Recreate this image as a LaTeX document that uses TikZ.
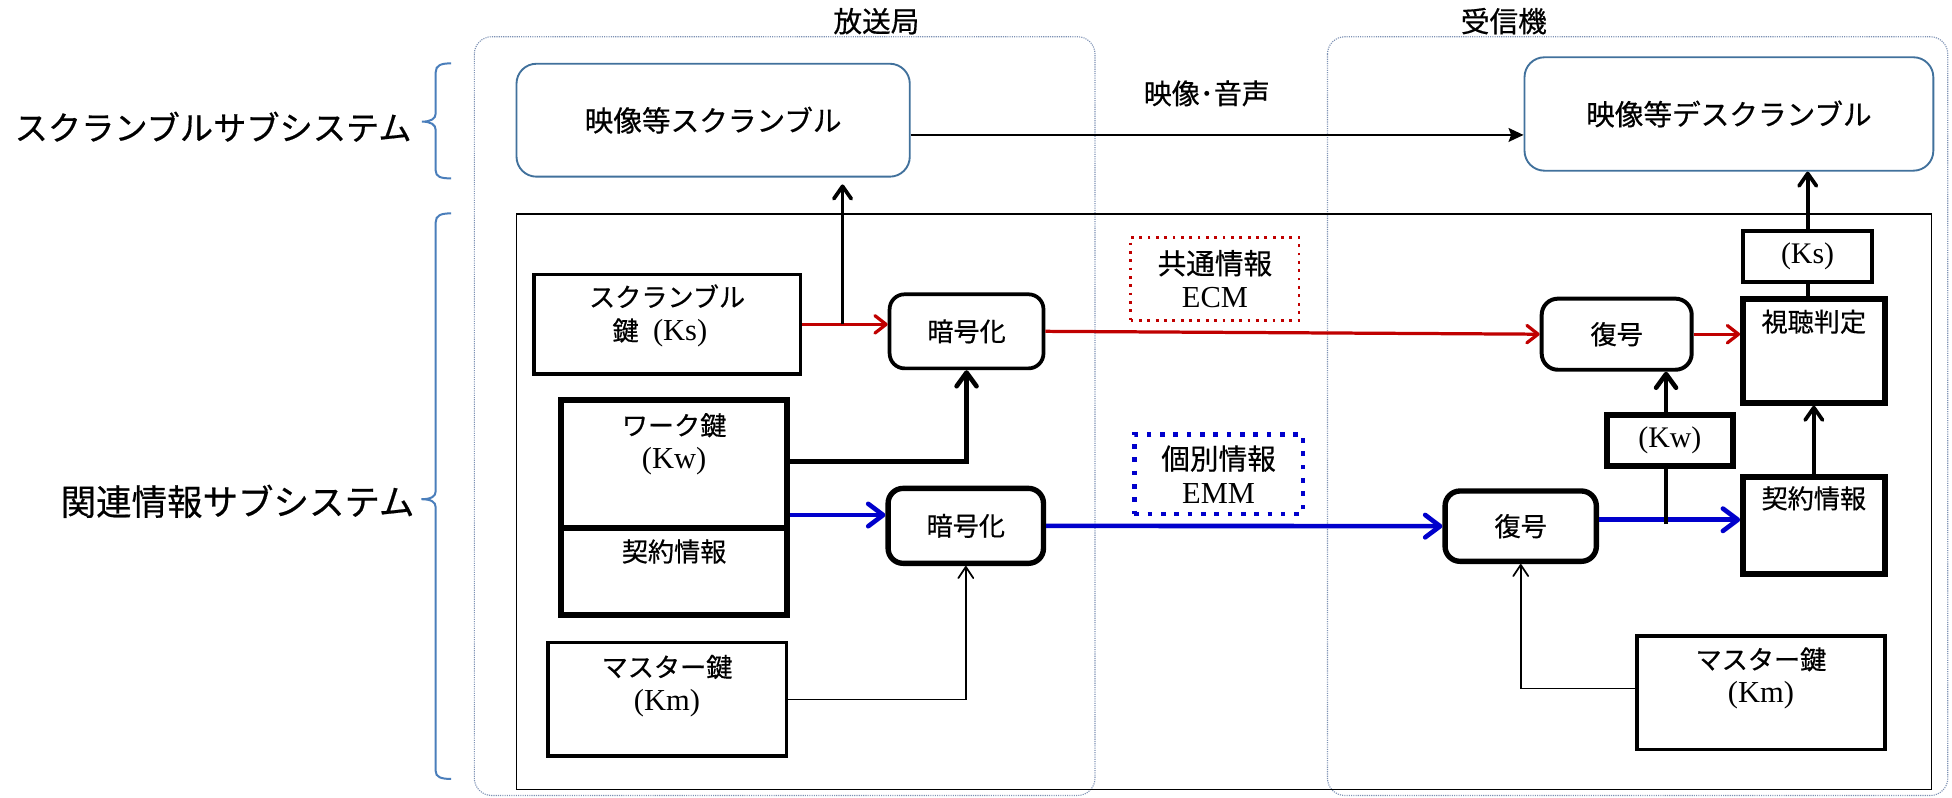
\documentclass[tikz,border=0pt]{standalone}
\usepackage{fontspec}
\newfontfamily\jp{Noto Sans CJK JP}[FakeBold=0.5]
\newfontfamily\lsf{Liberation Serif}
\usetikzlibrary{arrows.meta}
\definecolor{boxblue}{RGB}{65,113,156}
\definecolor{braceblue}{RGB}{74,126,187}
\definecolor{dotgray}{RGB}{125,145,180}
\definecolor{kred}{RGB}{192,0,0}
\definecolor{kblue}{RGB}{0,0,204}
\newcommand{\latn}[1]{{\lsf\fontsize{24.5}{27}\selectfont #1}}
\newcommand{\latsm}[1]{{\lsf\fontsize{24}{27}\selectfont #1}}
\begin{document}
\begin{tikzpicture}[x=1pt,y=-1pt,
  jt/.style={font=\jp\fontsize{#1}{27}\selectfont, align=center, inner sep=0pt},
  jt/.default=21,
  kbox/.style={draw=black, rectangle, inner sep=0pt},
  rkbox/.style={kbox, rounded corners=12pt},
  sbox/.style={draw=boxblue, line width=1.5pt, rounded corners=16pt, inner sep=0pt, jt=23},
  cont/.style={draw=dotgray, line width=0.9pt, dash pattern=on 0.9pt off 0.9pt, rounded corners=14pt},
  brc/.style={draw=braceblue, line width=1.6pt},
  redar/.style={draw=kred, line width=2.6pt, -{Straight Barb[length=9pt,width=14pt,round]}},
  bluar/.style={draw=kblue, line width=3.7pt, -{Straight Barb[length=12pt,width=18pt,round]}},
  thkar/.style={line width=3.7pt, -{Straight Barb[length=11pt,width=16pt,round]}},
  thkln/.style={line width=3.7pt},
  midar/.style={line width=3pt, -{Straight Barb[length=10pt,width=14pt,round]}},
  midln/.style={line width=3pt},
  thinar/.style={line width=1.4pt, -{Straight Barb[length=9pt,width=12pt,round]}},
  vidar/.style={line width=2pt, -{Stealth[length=12pt,width=11pt,inset=2pt]}},
]
\useasboundingbox (0,0) rectangle (1568,641);
\fill[white] (0,0) rectangle (1568,641);

% containers
\draw[cont] (381,29.5) rectangle (879.6,639);
\draw[cont] (1066.3,29.5) rectangle (1564.6,639);
\node[jt=23] (bcl) at (704,17) {放送局};
\node[jt=23] (rcl) at (1208,17) {受信機};

% left labels
\node[jt=26.7] (sslbl) at (171.2,101.8) {スクランブルサブシステム};
\node[jt=28.5] (kslbl) at (190.8,402.7) {関連情報サブシステム};

% braces
\draw[brc] (362.3,50.9) .. controls (354,50.9) and (350,52.5) .. (350,58) -- (350,91)
  .. controls (350,95.5) and (346,97.7) .. (339,97.7)
  .. controls (346,97.7) and (350,100) .. (350,104.5) -- (350,137)
  .. controls (350,142) and (354,143.3) .. (362.3,143.3);
\draw[brc] (362.3,171.4) .. controls (354,171.4) and (350,173) .. (350,178.5) -- (350,394.5)
  .. controls (350,399) and (346,401) .. (338.5,401)
  .. controls (346,401) and (350,403) .. (350,407.5) -- (350,619.5)
  .. controls (350,624) and (354,625.7) .. (362.3,625.7);

% related-info frame
\draw[line width=1.3pt] (415,171.7) rectangle (1551.5,634.3);

% scramble boxes
\node[sbox, minimum width=315.9pt, minimum height=90.7pt] (scr) at (572.85,96.55) {映像等スクランブル};
\node[sbox, minimum width=328.4pt, minimum height=91.1pt] (dscr) at (1388.8,91.55) {映像等デスクランブル};
\coordinate (vy) at (0,108.4);
\draw[vidar] (scr.east |- vy) -- (dscr.west |- vy);
\node[jt=22.5] (vlbl) at (969.4,75) {映像･音声};

% broadcaster side
\node[kbox, line width=3pt, minimum width=214.3pt, minimum height=80.3pt] (ksb) at (535.85,260.55) {};
\node[jt] (ksbt) at ([yshift=7pt]ksb.center) {スクランブル\\鍵\hspace*{0.55em}\latn{(Ks)}\hspace*{0.55em}};
\node[kbox, line width=5pt, minimum width=181.4pt, minimum height=103.1pt] (kwb) at (541.5,372.85) {};
\node[jt] (kwbt) at ([yshift=16pt]kwb.center) {ワーク鍵\\\latn{(Kw)}};
\node[kbox, line width=5pt, minimum width=181.4pt, minimum height=69.6pt] (cil) at (541.5,459.2) {};
\node[jt] (cilt) at ([yshift=16.2pt]cil.center) {契約情報};
\node[kbox, line width=2.8pt, minimum width=191.6pt, minimum height=91pt] (kml) at (535.8,561.8) {};
\node[jt] (kmlt) at ([yshift=10.8pt]kml.center) {マスター鍵\\\latn{(Km)}};

\node[rkbox, line width=3pt, minimum width=123.6pt, minimum height=59.5pt, jt] (enc1) at (776.4,266.15) {暗号化};
\node[rkbox, line width=4.3pt, minimum width=124.8pt, minimum height=60.2pt, jt] (enc2) at (775.8,422.4) {暗号化};

% ECM / EMM
\node[draw=kred, line width=2.2pt, dash pattern=on 2.2pt off 4.5pt, minimum width=135.2pt, minimum height=67pt, jt=23] (ecm) at (975.9,224.1) {共通情報\\\latn{ECM}};
\node[draw=kblue, line width=3.7pt, dash pattern=on 3.7pt off 7pt, minimum width=135.3pt, minimum height=64pt, jt=23] (emm) at (978.85,380.9) {個別情報\\\latn{EMM}};

% receiver side
\node[rkbox, rounded corners=13pt, line width=3.2pt, minimum width=120.5pt, minimum height=57.1pt, jt] (dec1) at (1298.65,268.45) {復号};
\node[rkbox, line width=4.3pt, minimum width=121.5pt, minimum height=56.5pt, jt] (dec2) at (1221.55,422.65) {復号};
\node[kbox, line width=4.8pt, minimum width=100.8pt, minimum height=40.7pt, jt] (kwr) at (1341.4,353.95) {\latsm{(Kw)}};
\node[kbox, line width=3.2pt, minimum width=103.1pt, minimum height=41pt, jt] (ksr) at (1451.95,205.8) {\latsm{(Ks)}};
\node[kbox, line width=4.8pt, minimum width=113.6pt, minimum height=83.6pt] (view) at (1457,281.7) {};
\node[jt] (viewt) at ([yshift=23.3pt]view.center) {視聴判定};
\node[kbox, line width=4.8pt, minimum width=113.6pt, minimum height=78.2pt] (cir) at (1457,422.3) {};
\node[jt] (cirt) at ([yshift=22pt]cir.center) {契約情報};
\node[kbox, line width=2.8pt, minimum width=199.4pt, minimum height=91pt] (kmr) at (1414.5,556.5) {};
\node[jt] (kmrt) at ([yshift=11.6pt]kmr.center) {マスター鍵\\\latn{(Km)}};

% connectors
\coordinate (bx) at (676.8,0);
\draw[redar] (ksb.east) -- (ksb.east -| enc1.west);
\draw[midar, shorten >=5.5pt] (ksb.east -| bx) -- (scr.south -| bx);
\coordinate (ky) at (0,370.9);
\draw[thkar] (kwb.east |- ky) -| (enc1.south);
\coordinate (by) at (0,413.7);
\draw[bluar] (kwb.east |- by) -- (enc2.west |- by);
\draw[thinar] (kml.east) -| (enc2.south);
\draw[redar] (enc1.east) -- (dec1.west);
\draw[bluar] (enc2.east) -- (dec2.west);
\draw[redar] (dec1.east) -- (dec1.east -| view.west);
\coordinate (bly) at (0,417.5);
\draw[bluar] (dec2.east |- bly) -- (cir.west |- bly);
\coordinate (kx) at (1338.3,0);
\coordinate (kvb) at (0,421);
\draw[thkln] (kx |- kvb) -- (kwr.south -| kx);
\draw[thkar] (kwr.north -| kx) -- (dec1.south -| kx);
\draw[midar] (cir.north) -- (view.south);
\coordinate (vx) at (1452.1,0);
\draw[midln] (view.north -| vx) -- (ksr.south -| vx);
\draw[midar] (ksr.north -| vx) -- (dscr.south -| vx);
\coordinate (kmy) at (0,553);
\draw[thinar] (kmr.west |- kmy) -| (dec2.south);
\end{tikzpicture}
\end{document}
